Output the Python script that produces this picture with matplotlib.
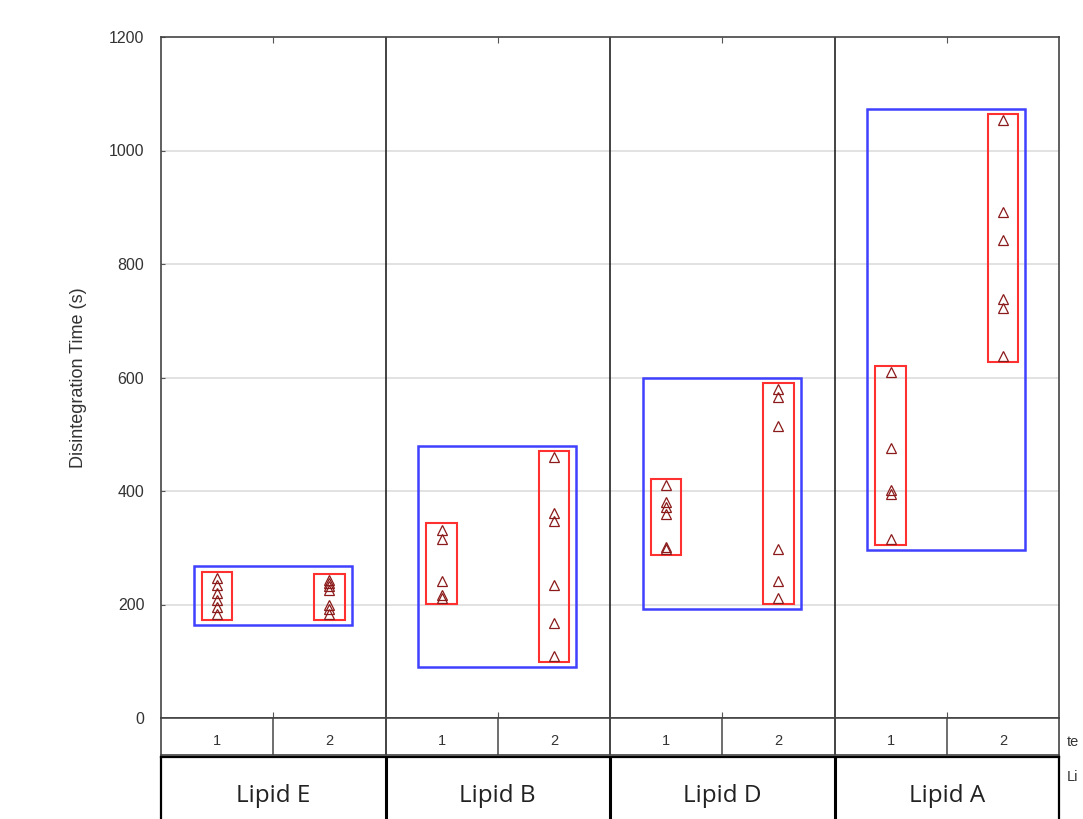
import numpy as np
import matplotlib
matplotlib.use('Agg')
import matplotlib.pyplot as plt
from matplotlib.patches import Rectangle

# data (disintegration time, s)
lipids = ["Lipid E", "Lipid B", "Lipid D", "Lipid A"]
tests = ["1", "2"]
lipid_e_1 = [247, 234, 221, 208, 195, 183]
lipid_e_2 = [243, 238, 232, 226, 200, 192, 183]
lipid_b_1 = [332, 316, 242, 216, 212]
lipid_b_2 = [460, 362, 347, 235, 167, 110]
lipid_d_1 = [410, 380, 372, 360, 302, 298]
lipid_d_2 = [580, 565, 515, 298, 242, 212]
lipid_a_1 = [610, 476, 402, 395, 316]
lipid_a_2 = [1054, 892, 842, 738, 722, 638]
groups = [[lipid_e_1, lipid_e_2], [lipid_b_1, lipid_b_2],
          [lipid_d_1, lipid_d_2], [lipid_a_1, lipid_a_2]]
yticks = [0, 200, 400, 600, 800, 1000, 1200]

W, H = 1083, 819
fig = plt.figure(figsize=(W / 100, H / 100), dpi=100)

def fx(px):
    return px / W

def fy(py):
    return 1 - py / H

# main plot area
ax = fig.add_axes([fx(161), fy(718), fx(1059) - fx(161), fy(37) - fy(718)])
ax.set_xlim(0, 4)
ax.set_ylim(0, 1200)
ax.set_yticks(yticks)
ax.set_yticklabels([str(t) for t in yticks], fontsize=11.5, color='#333333',
                   family='Liberation Sans')
ax.tick_params(axis='y', direction='in', length=3, color='#555555', pad=12)
ax.set_xticks([i + 0.5 for i in range(4)])
ax.set_xticklabels([])
ax.tick_params(axis='x', direction='in', length=4, color='#555555', top=True)
for s in ax.spines.values():
    s.set_color('#444444')
    s.set_linewidth(1.2)
for t in yticks[1:-1]:
    ax.axhline(t, color='#dddddd', lw=1.2, zorder=0)
for i in range(1, 4):
    ax.axvline(i, color='#222222', lw=1.2, zorder=1)
ax.set_ylabel("Disintegration Time (s)", fontsize=13, color='#333333',
              family='Liberation Sans', labelpad=16)

red_pad = 11
blue_pad = 20
for i, grp in enumerate(groups):
    allv = grp[0] + grp[1]
    lo, hi = min(allv) - blue_pad, max(allv) + blue_pad
    ax.add_patch(Rectangle((i + 0.145, lo), 0.705, hi - lo, fill=False,
                           ec='#4040ff', lw=1.8, zorder=2))
    for j, vals in enumerate(grp):
        xc = i + 0.25 + 0.5 * j
        ax.add_patch(Rectangle((xc - 0.068, min(vals) - red_pad), 0.136,
                               max(vals) - min(vals) + 2 * red_pad,
                               fill=False, ec='#ff3030', lw=1.5, zorder=3))
        ax.plot([xc] * len(vals), vals, ls='none', marker='^', ms=6.5,
                mfc='none', mec='#8b1a1a', mew=0.9, zorder=4)

# test number strip
ax2 = fig.add_axes([fx(161), fy(755), fx(1059) - fx(161), fy(718) - fy(755)])
ax2.set_xlim(0, 4)
ax2.set_ylim(0, 1)
ax2.set_xticks([])
ax2.set_yticks([])
for s in ax2.spines.values():
    s.set_color('#444444')
    s.set_linewidth(1.2)
for i in range(4):
    ax2.axvline(i + 0.5, color='#555555', lw=1.2)
    if i > 0:
        ax2.axvline(i, color='#222222', lw=1.2)
    for j, lab in enumerate(tests):
        ax2.text(i + 0.25 + 0.5 * j, 0.38, lab, ha='center', va='center',
                 fontsize=10.5, color='#333333', family='Liberation Sans')

# lipid label row
ax3 = fig.add_axes([fx(161), fy(850), fx(1059) - fx(161), fy(757) - fy(850)])
ax3.set_xlim(0, 4)
ax3.set_ylim(0, 1)
ax3.set_xticks([])
ax3.set_yticks([])
for s in ax3.spines.values():
    s.set_color('black')
    s.set_linewidth(1.6)
for i, lab in enumerate(lipids):
    if i > 0:
        ax3.axvline(i, color='black', lw=2.2)
    ax3.text(i + 0.5, 0.58, lab, ha='center', va='center', fontsize=17.5,
             color='#222222', family='Open Sans')

# row captions, cut at the right edge in the reference
fig.text(fx(1067), fy(742), "te", fontsize=10.5, color='#333333', va='center',
         family='Liberation Sans')
fig.text(fx(1067), fy(777), "Li", fontsize=10.5, color='#333333', va='center',
         family='Liberation Sans')

fig.savefig("out.png", dpi=100)
